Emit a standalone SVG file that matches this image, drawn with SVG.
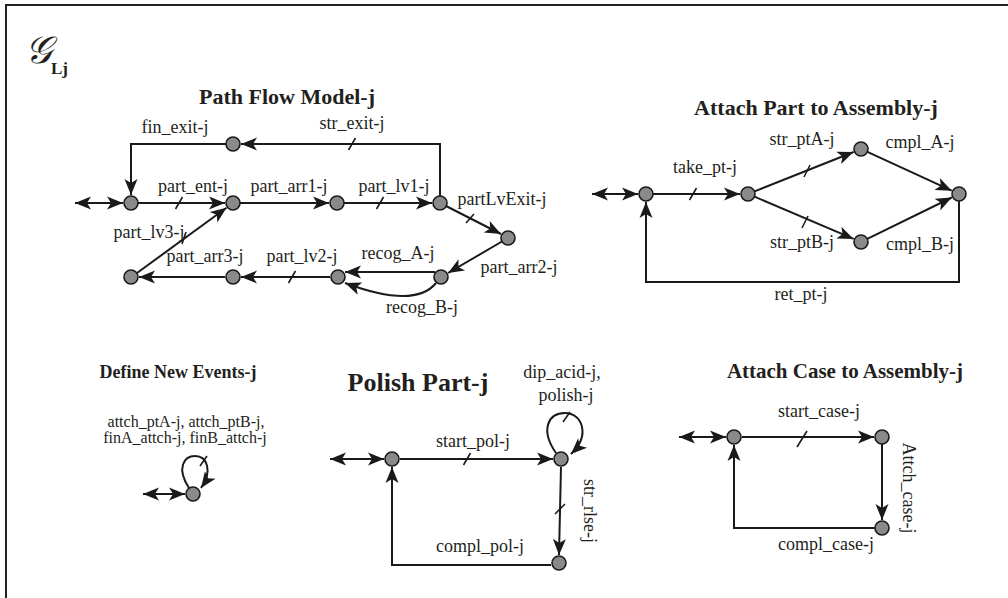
<svg xmlns="http://www.w3.org/2000/svg" width="1008" height="598" viewBox="0 0 1008 598">
  <style>
    .frame { fill: none; stroke: #222; stroke-width: 2; }
    .edge { fill: none; stroke: #1a1a1a; stroke-width: 2; }
    .tick { stroke: #1a1a1a; stroke-width: 1.6; }
    .node { fill: #8a8a8a; stroke: #1a1a1a; stroke-width: 1.6; }
    .lbl { font-family: "Liberation Serif", "Times New Roman", serif; font-size: 18px; fill: #231f20; text-anchor: middle; }
    .small { font-size: 16px; }
    .title { font-family: "Liberation Serif", "Times New Roman", serif; font-weight: bold; fill: #231f20; text-anchor: middle; }
  </style>
  <defs>
    <marker id="ah" viewBox="-17 -7 18 14" refX="0" refY="0" markerWidth="18" markerHeight="14" markerUnits="userSpaceOnUse" orient="auto-start-reverse">
      <path d="M0,0 L-16,-6.5 L-12,0 L-16,6.5 Z" fill="#1a1a1a"/>
    </marker>
  </defs>

  <rect width="1008" height="598" fill="#fff"/>
  <path class="frame" d="M6,598 L6,5 L1008,5"/>

  <!-- graph name -->
  <text x="25" y="63" font-family="DejaVu Serif, DejaVu Sans, serif" font-style="italic" font-size="38" fill="#231f20">𝒢</text>
  <text x="51" y="74" font-family="Liberation Serif, serif" font-weight="bold" font-size="17" fill="#231f20">Lj</text>

  <!-- titles -->
  <text class="title" x="287" y="104" font-size="22">Path Flow Model-j</text>
  <text class="title" x="816" y="115" font-size="22">Attach Part to Assembly-j</text>
  <text class="title" x="178" y="378" font-size="18">Define New Events-j</text>
  <text class="title" x="418" y="391" font-size="26">Polish Part-j</text>
  <text class="title" x="845" y="378" font-size="21">Attach Case to Assembly-j</text>

  <g id="connectors">
    <!-- Path Flow Model -->
    <path class="edge" d="M75,203 L123,203" marker-start="url(#ah)" marker-end="url(#ah)"/>
    <path class="edge" d="M138,203 L225,203" marker-end="url(#ah)"/>
    <path class="edge" d="M240,203 L329,203" marker-end="url(#ah)"/>
    <path class="edge" d="M344,203 L432,203" marker-end="url(#ah)"/>
    <path class="edge" d="M440,196 L440,144 L241,144" marker-end="url(#ah)"/>
    <path class="edge" d="M226,144 L131,144 L131,195" marker-end="url(#ah)"/>
    <path class="edge" d="M446,206 L501,234" marker-end="url(#ah)"/>
    <path class="edge" d="M502,241.5 L448,273" marker-end="url(#ah)"/>
    <path class="edge" d="M435,272 L345,272" marker-end="url(#ah)"/>
    <path class="edge" d="M436,283 Q415,309 345,283" marker-end="url(#ah)"/>
    <path class="edge" d="M330,277 L241,277" marker-end="url(#ah)"/>
    <path class="edge" d="M225,277 L139,277" marker-end="url(#ah)"/>
    <path class="edge" d="M137,273 L226.5,207.7" marker-end="url(#ah)"/>
    <line class="tick" x1="175.5" y1="209" x2="182.5" y2="197"/>
    <line class="tick" x1="376.5" y1="209" x2="383.5" y2="197"/>
    <line class="tick" x1="348.5" y1="150" x2="355.5" y2="138"/>
    <line class="tick" x1="466" y1="223" x2="474" y2="214"/>
    <line class="tick" x1="288.5" y1="283" x2="295.5" y2="271"/>
    <line class="tick" x1="182" y1="244" x2="186" y2="232"/>

    <!-- Attach Part to Assembly -->
    <path class="edge" d="M592,194 L638,194" marker-start="url(#ah)" marker-end="url(#ah)"/>
    <path class="edge" d="M653,194 L740,194" marker-end="url(#ah)"/>
    <path class="edge" d="M754.5,191.4 L853.6,152" marker-end="url(#ah)"/>
    <path class="edge" d="M754.4,196.7 L853.6,238.9" marker-end="url(#ah)"/>
    <path class="edge" d="M867.4,151.9 L951.7,190.7" marker-end="url(#ah)"/>
    <path class="edge" d="M867.3,238.9 L951.8,197.5" marker-end="url(#ah)"/>
    <path class="edge" d="M959,201 L959,282 L646,282 L646,202" marker-end="url(#ah)"/>
    <line class="tick" x1="689.5" y1="200" x2="696.5" y2="188"/>
    <line class="tick" x1="804" y1="177" x2="810" y2="165"/>
    <line class="tick" x1="802" y1="228" x2="808" y2="216"/>

    <!-- Define New Events -->
    <path class="edge" d="M143,494 L185,494" marker-start="url(#ah)" marker-end="url(#ah)"/>
    <path class="edge" d="M189,488 C176,468 184,456 195,456 C207,456 213,471 201,488" marker-end="url(#ah)"/>
    <line class="tick" x1="200" y1="466" x2="207" y2="456"/>

    <!-- Polish Part -->
    <path class="edge" d="M330,459 L384,459" marker-start="url(#ah)" marker-end="url(#ah)"/>
    <path class="edge" d="M400,459 L553,459" marker-end="url(#ah)"/>
    <path class="edge" d="M556,453 C540,430 548,413 565,413 C582,413 591,435 571,454" marker-end="url(#ah)"/>
    <path class="edge" d="M561,467 L559,555" marker-end="url(#ah)"/>
    <path class="edge" d="M551,565 L392,565 L392,467" marker-end="url(#ah)"/>
    <line class="tick" x1="463.5" y1="465" x2="470.5" y2="453"/>
    <line class="tick" x1="563" y1="422" x2="570" y2="412"/>
    <line class="tick" x1="555" y1="514" x2="565" y2="504"/>

    <!-- Attach Case to Assembly -->
    <path class="edge" d="M679,437 L726,437" marker-start="url(#ah)" marker-end="url(#ah)"/>
    <path class="edge" d="M742,437 L874,437" marker-end="url(#ah)"/>
    <path class="edge" d="M882,444 L882,520" marker-end="url(#ah)"/>
    <path class="edge" d="M875,528 L734,528 L734,445" marker-end="url(#ah)"/>
    <line class="tick" x1="797" y1="447" x2="807" y2="431"/>
  </g>

  <!-- Path Flow Model nodes -->
  <g id="pf-entry"><circle class="node" cx="131" cy="203" r="7"/></g>
  <g id="pf-ent"><circle class="node" cx="233" cy="203" r="7"/></g>
  <g id="pf-arr1"><circle class="node" cx="337" cy="203" r="7"/></g>
  <g id="pf-lv1"><circle class="node" cx="440" cy="203" r="7"/></g>
  <g id="pf-exit"><circle class="node" cx="233" cy="144" r="7"/></g>
  <g id="pf-lvexit"><circle class="node" cx="508" cy="238" r="7"/></g>
  <g id="pf-arr2"><circle class="node" cx="441" cy="277" r="7"/></g>
  <g id="pf-recog"><circle class="node" cx="338" cy="277" r="7"/></g>
  <g id="pf-lv2"><circle class="node" cx="233" cy="277" r="7"/></g>
  <g id="pf-arr3"><circle class="node" cx="131" cy="277" r="7"/></g>

  <!-- Attach Part nodes -->
  <g id="ap-start"><circle class="node" cx="646" cy="194" r="7"/></g>
  <g id="ap-take"><circle class="node" cx="748" cy="194" r="7"/></g>
  <g id="ap-a"><circle class="node" cx="861" cy="149" r="7"/></g>
  <g id="ap-b"><circle class="node" cx="861" cy="242" r="7"/></g>
  <g id="ap-done"><circle class="node" cx="959" cy="194" r="7"/></g>

  <!-- Define New Events node -->
  <g id="dn-node"><circle class="node" cx="193" cy="494" r="7"/></g>

  <!-- Polish Part nodes -->
  <g id="pp-start"><circle class="node" cx="392" cy="459" r="7"/></g>
  <g id="pp-pol"><circle class="node" cx="561" cy="459" r="7"/></g>
  <g id="pp-rlse"><circle class="node" cx="559" cy="563" r="7"/></g>

  <!-- Attach Case nodes -->
  <g id="ac-start"><circle class="node" cx="734" cy="437" r="7"/></g>
  <g id="ac-case"><circle class="node" cx="882" cy="437" r="7"/></g>
  <g id="ac-done"><circle class="node" cx="882" cy="528" r="7"/></g>

  <!-- edge labels -->
  <g id="labels">
    <text class="lbl" x="175" y="133">fin_exit-j</text>
    <text class="lbl" x="352" y="129">str_exit-j</text>
    <text class="lbl" x="193" y="192">part_ent-j</text>
    <text class="lbl" x="289" y="192">part_arr1-j</text>
    <text class="lbl" x="394" y="192">part_lv1-j</text>
    <text class="lbl" x="502" y="205">partLvExit-j</text>
    <text class="lbl" x="149" y="238">part_lv3-j</text>
    <text class="lbl" x="205" y="262">part_arr3-j</text>
    <text class="lbl" x="302" y="262">part_lv2-j</text>
    <text class="lbl" x="398" y="259">recog_A-j</text>
    <text class="lbl" x="519" y="273">part_arr2-j</text>
    <text class="lbl" x="422" y="313">recog_B-j</text>

    <text class="lbl" x="705" y="173">take_pt-j</text>
    <text class="lbl" x="802" y="145">str_ptA-j</text>
    <text class="lbl" x="920" y="148">cmpl_A-j</text>
    <text class="lbl" x="802" y="248">str_ptB-j</text>
    <text class="lbl" x="920" y="250">cmpl_B-j</text>
    <text class="lbl" x="801" y="300">ret_pt-j</text>

    <text class="lbl small" x="186" y="427">attch_ptA-j, attch_ptB-j,</text>
    <text class="lbl small" x="185" y="443">finA_attch-j, finB_attch-j</text>

    <text class="lbl" x="562" y="378">dip_acid-j,</text>
    <text class="lbl" x="566" y="401">polish-j</text>
    <text class="lbl" x="473" y="447">start_pol-j</text>
    <text class="lbl" x="480" y="552">compl_pol-j</text>
    <text class="lbl" transform="translate(584,511) rotate(90)">str_rlse-j</text>

    <text class="lbl" x="819" y="417">start_case-j</text>
    <text class="lbl" x="826" y="550">compl_case-j</text>
    <text class="lbl" transform="translate(903,488) rotate(90)">Attch_case-j</text>
  </g>
</svg>
